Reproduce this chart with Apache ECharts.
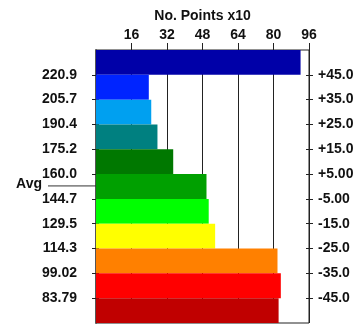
<!DOCTYPE html>
<html>
<head>
<meta charset="utf-8">
<script src="https://cdn.jsdelivr.net/npm/echarts@6/dist/echarts.min.js"></script>
<style>html,body{margin:0;padding:0;background:#fff}#c{width:363px;height:325px}</style>
</head>
<body>
<div id="c"></div>
<script>
// ---- data ----
const bandNames = ['b1','b2','b3','b4','b5','b6','b7','b8','b9','b10','b11'];
const barValues = [92.2, 23.8, 24.9, 27.7, 34.8, 49.8, 50.8, 53.7, 81.8, 83.3, 82.3];
const barColors = ['#0000A8','#0024FF','#00A0F0','#008080','#007800','#00A000','#00FF00','#FFFF00','#FF8000','#FF0000','#C00000'];
const leftLabels = ['220.9','205.7','190.4','175.2','160.0','144.7','129.5','114.3','99.02','83.79'];
const rightLabels = ['+45.0','+35.0','+25.0','+15.0','+5.00','-5.00','-15.0','-25.0','-35.0','-45.0'];
const xTicks = [16, 32, 48, 64, 80, 96];
const avgValue = 152.7;
const xTitle = 'No. Points x10';

const font = {fontFamily: 'Liberation Sans', fontWeight: 'bold', fontSize: 14, color: '#111'};
const boundaryPos = leftLabels.map((_, i) => i + 1);

const chart = echarts.init(document.getElementById('c'), null, {renderer: 'canvas'});

function valueAxis(position, labels, inside, showLabel, margin) {
  return {
    type: 'value', position: position, min: 0, max: bandNames.length, interval: 1, inverse: true,
    axisLine: {show: false},
    splitLine: {show: false},
    axisTick: {show: true, inside: inside, length: inside ? 3 : 4, customValues: boundaryPos,
               lineStyle: {color: '#222', width: 1}},
    axisLabel: {show: showLabel, customValues: boundaryPos, margin: margin,
                formatter: v => labels[Math.round(v) - 1] || '', ...font}
  };
}

chart.setOption({
  animation: false,
  grid: {left: 96, right: 54, top: 50, bottom: 2, show: true, borderColor: '#222', borderWidth: 1, containLabel: false},
  xAxis: {
    type: 'value', position: 'top', min: 0, max: 96, interval: 16,
    name: xTitle, nameLocation: 'middle', nameGap: 23,
    nameTextStyle: {...font},
    axisLine: {show: false},
    axisTick: {show: true, inside: false, length: 7, customValues: xTicks, lineStyle: {color: '#222'}},
    axisLabel: {customValues: xTicks, margin: 8, ...font},
    splitLine: {show: true, lineStyle: {color: '#222', width: 1}}
  },
  yAxis: [
    {type: 'category', data: bandNames, inverse: true, show: false, boundaryGap: true},
    Object.assign(valueAxis('left', leftLabels, false, true, 19), {axisLine: {show: true, lineStyle: {color: '#555', width: 2}}}),
    valueAxis('left', leftLabels, true, false, 19),
    valueAxis('right', rightLabels, false, true, 9),
    valueAxis('right', rightLabels, true, false, 9)
  ],
  series: [{
    type: 'bar', yAxisIndex: 0, barCategoryGap: '0%',
    data: barValues.map((v, i) => ({value: v, itemStyle: {color: barColors[i]}})),
    z: 3
  }]
});

// average marker: position along band axis from label values
function labelPos(val) {
  const nums = leftLabels.map(Number);
  for (let i = 0; i < nums.length - 1; i++) {
    if (val <= nums[i] && val >= nums[i + 1]) {
      return (i + 1) + (nums[i] - val) / (nums[i] - nums[i + 1]);
    }
  }
  return 0;
}
const yAvg = chart.convertToPixel({yAxisIndex: 1}, labelPos(avgValue));
chart.setOption({
  graphic: [
    {type: 'line', shape: {x1: 48, y1: yAvg, x2: 96, y2: yAvg}, style: {stroke: '#333', lineWidth: 1}, z: 10},
    {type: 'text', x: 42, y: yAvg - 2, style: {text: 'Avg', align: 'right', verticalAlign: 'middle',
      font: 'bold 14px "Liberation Sans"', fill: '#111'}, z: 10}
  ]
});
</script>
</body>
</html>
